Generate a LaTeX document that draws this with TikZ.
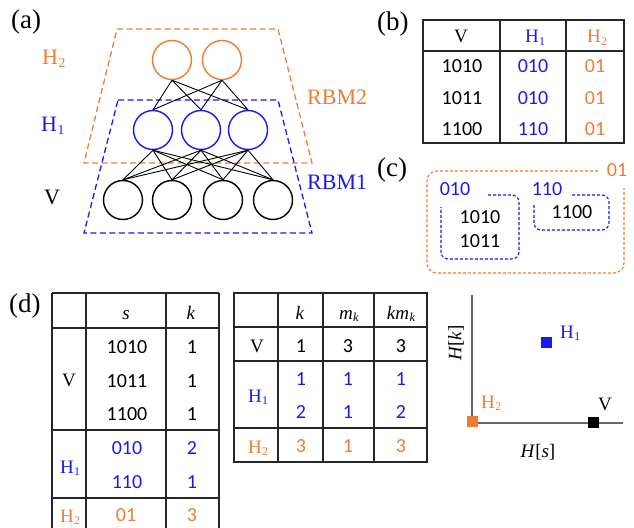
\documentclass[tikz,border=0pt]{standalone}
\usepackage{fontspec}
\setmainfont{Liberation Serif}
\newfontfamily\numfont{Carlito}
\definecolor{org}{RGB}{237,125,49}
\definecolor{blu}{RGB}{25,25,245}
\newcommand\Hs[1]{H\kern0.02em\raisebox{-0.3ex}{\scalebox{0.62}{#1}}}
\newcommand\itx[1]{\textit{#1}}
\newcommand\mk{\textit{m}\kern0.02em\raisebox{-0.3ex}{\scalebox{0.65}{\textit{k}}}}
\begin{document}
\begin{tikzpicture}[x=1pt,y=-1pt,
  circ/.style={circle, draw, line width=1.4, minimum size=39, inner sep=0},
  bigdash/.style={line width=1.3, dash pattern=on 6pt off 3.5pt},
  smalldash/.style={line width=1.1, dash pattern=on 3pt off 2pt, rounded corners=7},
  tab/.style={line width=1.2, black!85},
  num/.style={font=\numfont\fontsize{20}{24}\selectfont, inner sep=0, anchor=base},
  ser/.style={font=\fontsize{19}{22}\selectfont, inner sep=0, anchor=base},
  big/.style={font=\fontsize{22}{26}\selectfont, inner sep=0, anchor=base west},
  lab/.style={font=\fontsize{27}{30}\selectfont, inner sep=0, anchor=base west},
  sq/.style={rectangle, minimum size=11, inner sep=0},
  axis/.style={line width=1.3, black!60}]
\useasboundingbox (0,0) rectangle (634,527);
\clip (0,0) rectangle (634,527);

% ---------------- (a)
\node[lab] (la) at (11,29) {(a)};
\draw[org,bigdash] (117,29) -- (278,29) -- (312,163) -- (84,163) -- cycle;
\draw[blu,bigdash] (118,100) -- (278,100) -- (312,233) -- (84,233) -- cycle;
\node[circ,org] (o1) at (172,60) {};
\node[circ,org] (o2) at (222,60) {};
\node[circ,blu] (b1) at (153,130) {};
\node[circ,blu] (b2) at (201,130) {};
\node[circ,blu] (b3) at (248,130) {};
\node[circ] (v1) at (123,200) {};
\node[circ] (v2) at (172,200) {};
\node[circ] (v3) at (223,200) {};
\node[circ] (v4) at (273,200) {};
\foreach \a in {o1,o2}{\foreach \b in {b1,b2,b3}{\draw[line width=0.9] (\a.south) -- (\b.north);}}
\foreach \a in {b1,b2,b3}{\foreach \b in {v1,v2,v3,v4}{\draw[line width=0.9] (\a.south) -- (\b.north);}}
\node[big,org] (aH2) at (42,64) {\Hs{2}};
\node[big,blu] (aH1) at (41,131) {\Hs{1}};
\node[big] (aV) at (44,204) {V};
\node[big,org] (r2) at (307,104) {RBM2};
\node[big,blu] (r1) at (307,189) {RBM1};

% ---------------- (b)
\node[lab] (lb) at (377,31) {(b)};
\draw[tab] (423,20) rectangle (624,143);
\draw[tab] (500,20) -- (500,143);
\draw[tab] (566,20) -- (566,143);
\draw[tab] (423,51) -- (624,51);
\node[ser] (bV) at (461,43) {V};
\node[ser,blu] (bH1) at (535,43) {\Hs{1}};
\node[ser,org] (bH2) at (597,43) {\Hs{2}};
\node[num] (b11) at (462,73) {1010};
\node[num,blu] (b12) at (533,73) {010};
\node[num,org] (b13) at (595,73) {01};
\node[num] (b21) at (462,104) {1011};
\node[num,blu] (b22) at (533,104) {010};
\node[num,org] (b23) at (595,104) {01};
\node[num] (b31) at (462,135) {1100};
\node[num,blu] (b32) at (533,135) {110};
\node[num,org] (b33) at (595,135) {01};

% ---------------- (c)
\node[lab] (lc) at (377,176) {(c)};
\draw[org,smalldash,rounded corners=10] (598,171) -- (427,171) -- (427,273) -- (624,273) -- (624,188);
\draw[blu,smalldash] (488,195) -- (519,195) -- (519,259) -- (441,259) -- (441,207);
\draw[blu,smalldash] (572,195) -- (609,195) -- (609,230) -- (534,230) -- (534,205);
\node[num,org] (c01) at (617,176) {01};
\node[num,blu] (c010) at (455,195) {010};
\node[num,blu] (c110) at (547,195) {110};
\node[num] (c1010) at (480,223) {1010};
\node[num] (c1011) at (480,247) {1011};
\node[num] (c1100) at (572,218) {1100};

% ---------------- (d) left table
\node[lab] (ld) at (9,312) {(d)};
\draw[tab] (52,293) -- (219,293);
\draw[tab] (52,293) -- (52,540);
\draw[tab] (86,293) -- (86,540);
\draw[tab] (166,293) -- (166,540);
\draw[tab] (219,293) -- (219,540);
\draw[tab] (52,328) -- (219,328);
\draw[tab] (52,430) -- (219,430);
\draw[tab] (52,498) -- (219,498);
\node[ser] (ds) at (126,319) {\itx{s}};
\node[ser] (dk) at (191,319) {\itx{k}};
\node[ser] (dV) at (69,386) {V};
\node[num] (d11) at (127,353) {1010};
\node[num] (d12) at (192,353) {1};
\node[num] (d21) at (127,387) {1011};
\node[num] (d22) at (192,387) {1};
\node[num] (d31) at (127,420) {1100};
\node[num] (d32) at (192,420) {1};
\node[ser,blu] (dH1) at (70,473) {\Hs{1}};
\node[num,blu] (d41) at (127,454) {010};
\node[num,blu] (d42) at (192,454) {2};
\node[num,blu] (d51) at (127,488) {110};
\node[num,blu] (d52) at (192,488) {1};
\node[ser,org] (dH2) at (70,522) {\Hs{2}};
\node[num,org] (d61) at (126,521) {01};
\node[num,org] (d62) at (192,521) {3};

% ---------------- (d) middle table
\draw[tab] (234,293) rectangle (427,462);
\draw[tab] (278,293) -- (278,462);
\draw[tab] (323,293) -- (323,462);
\draw[tab] (374,293) -- (374,462);
\draw[tab] (234,327) -- (427,327);
\draw[tab] (234,361) -- (427,361);
\draw[tab] (234,428) -- (427,428);
\node[ser] (mk) at (300,319) {\itx{k}};
\node[ser] (mm) at (349,319) {\mk};
\node[ser] (mkm) at (401,319) {\itx{k}\mk};
\node[ser] (mV) at (257,352) {V};
\node[num] (m11) at (301,352) {1};
\node[num] (m12) at (348,352) {3};
\node[num] (m13) at (401,352) {3};
\node[ser,blu] (mH1) at (258,402) {\Hs{1}};
\node[num,blu] (m21) at (301,385) {1};
\node[num,blu] (m22) at (348,385) {1};
\node[num,blu] (m23) at (401,385) {1};
\node[num,blu] (m31) at (301,418) {2};
\node[num,blu] (m32) at (348,418) {1};
\node[num,blu] (m33) at (401,418) {2};
\node[ser,org] (mH2) at (258,453) {\Hs{2}};
\node[num,org] (m41) at (301,452) {3};
\node[num,org] (m42) at (348,452) {1};
\node[num,org] (m43) at (401,452) {3};

% ---------------- (d) plot
\coordinate (ytop) at (472,295);
\coordinate (orig) at (472,423);
\coordinate (xend) at (623,423);
\draw[axis] (ytop) -- (orig) -- (xend);
\node[sq,fill=org] (pH2) at (472.5,421.5) {};
\node[sq,fill=black] (pV) at (593,422) {};
\node[sq,fill=blu] (pH1) at (546.5,342.5) {};
\node[ser,blu,anchor=base west] (tH1) at (560,338) {\Hs{1}};
\node[ser,org,anchor=base west] (tH2) at (481,408) {\Hs{2}};
\node[ser] (tV) at (605,410) {V};
\node[ser] (tHs) at (538,457) {\itx{H}[\itx{s}]};
\node[ser,anchor=center,rotate=90] (tHk) at (456,343) {\itx{H}[\itx{k}]};
\end{tikzpicture}
\end{document}
